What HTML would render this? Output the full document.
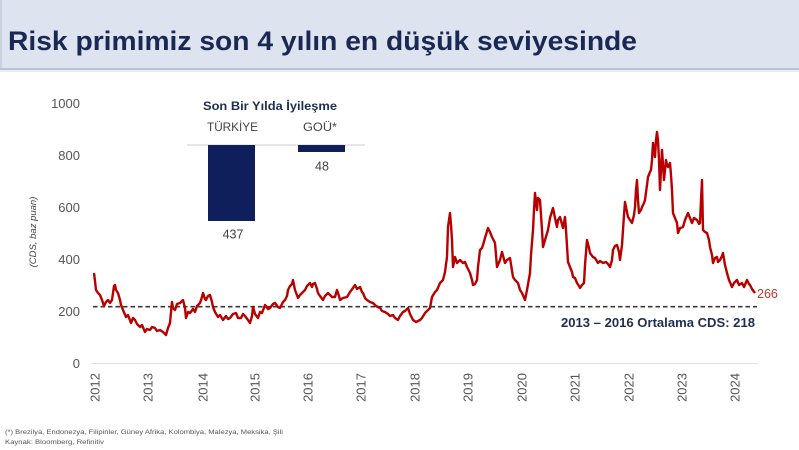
<!DOCTYPE html>
<html>
<head>
<meta charset="utf-8">
<style>
html,body{margin:0;padding:0;background:#fff;}
body{width:799px;height:450px;overflow:hidden;}
svg{display:block;}
</style>
</head>
<body>
<svg width="799" height="450" viewBox="0 0 799 450" xmlns="http://www.w3.org/2000/svg">
  <!-- header -->
  <rect x="0" y="0" width="799" height="70" fill="#dde4f0"/>
  <rect x="0" y="0" width="2" height="70" fill="#c9d1de"/>
  <rect x="0" y="68" width="799" height="2" fill="#b9c3d3"/>
  <rect x="0" y="70" width="799" height="2" fill="#e8ebf1"/>
  <text x="8" y="50" font-family="Liberation Sans, sans-serif" font-weight="bold" font-size="27" fill="#1a2853" textLength="629" lengthAdjust="spacingAndGlyphs">Risk primimiz son 4 yılın en düşük seviyesinde</text>

  <!-- y axis labels -->
  <g font-family="Liberation Sans, sans-serif" font-size="13" fill="#555" text-anchor="end">
    <text x="80" y="108">1000</text>
    <text x="80" y="160">800</text>
    <text x="80" y="212">600</text>
    <text x="80" y="264">400</text>
    <text x="80" y="316">200</text>
    <text x="80" y="368">0</text>
  </g>
  <text transform="translate(36,232) rotate(-90)" font-family="Liberation Sans, sans-serif" font-style="italic" font-size="9.5" fill="#444" text-anchor="middle">(CDS, baz puan)</text>

  <!-- baseline gridline -->
  <line x1="91" y1="363.5" x2="758" y2="363.5" stroke="#e2e2e2" stroke-width="1"/>

  <!-- x axis labels -->
  <g font-family="Liberation Sans, sans-serif" font-size="13" fill="#555" text-anchor="end">
    <text transform="translate(99.5,373) rotate(-90)">2012</text>
    <text transform="translate(152.5,373) rotate(-90)">2013</text>
    <text transform="translate(207.5,373) rotate(-90)">2014</text>
    <text transform="translate(259.5,373) rotate(-90)">2015</text>
    <text transform="translate(312.5,373) rotate(-90)">2016</text>
    <text transform="translate(365.5,373) rotate(-90)">2017</text>
    <text transform="translate(419.5,373) rotate(-90)">2018</text>
    <text transform="translate(472.5,373) rotate(-90)">2019</text>
    <text transform="translate(526.5,373) rotate(-90)">2020</text>
    <text transform="translate(579.5,373) rotate(-90)">2021</text>
    <text transform="translate(633.5,373) rotate(-90)">2022</text>
    <text transform="translate(686.5,373) rotate(-90)">2023</text>
    <text transform="translate(739.5,373) rotate(-90)">2024</text>
  </g>

  <!-- dashed average line -->
  <line x1="93" y1="306.7" x2="757" y2="306.7" stroke="#3a3a3a" stroke-width="1.6" stroke-dasharray="4.5,3"/>

  <!-- series -->
  <polyline fill="none" stroke="#b80000" stroke-width="2.4" stroke-linejoin="round" points="94,273 95,281 96,290 98,293 100,295 102,300 104,306 106,302 108,300 110,303 112,300 114,286 115,285 116,290 118,293 120,300 121,305 123,310 126,317 128,315 131,323 133,318 135,320 137,324 140,327 142,325 145,332 147,329 150,330 152,327 155,328 157,331 160,330 163,332 166,335 168,328 170,323 171,312 172,302 173,308 175,310 177,304 180,303 183,300 185,308 186,318 188,312 190,313 193,309 195,312 197,306 200,303 202,297 203,293 205,299 206,300 208,296 210,295 212,302 213,307 215,312 218,317 220,315 223,320 226,316 228,319 230,318 233,314 236,313 238,318 241,318 243,314 245,316 248,320 250,323 252,316 253,307 255,314 258,318 260,312 262,313 265,305 268,309 270,308 273,304 275,303 278,307 280,308 283,302 285,300 287,296 288,290 290,286 292,284 293,280 295,290 298,298 300,295 302,293 305,290 307,286 310,283 312,287 313,284 315,283 317,289 318,293 320,296 323,300 325,296 328,293 330,295 332,297 335,297 337,290 339,296 340,300 343,298 347,297 350,292 353,288 355,285 357,289 360,287 362,292 363,293 365,298 367,300 370,302 373,303 376,306 380,308 382,311 385,312 388,314 390,316 393,315 395,318 398,320 400,316 403,312 405,311 408,308 410,314 413,320 416,322 420,320 422,318 425,313 428,310 430,308 432,297 435,292 437,290 440,283 443,280 445,272 447,257 448,227 449,220 450,213 451,225 452,240 453,267 455,257 457,263 460,260 463,263 465,262 467,267 470,273 472,280 473,285 475,284 477,280 478,267 480,250 482,248 483,245 485,238 488,228 490,232 492,237 495,243 497,267 500,260 502,252 505,263 507,260 510,258 513,277 515,280 518,283 520,290 522,293 525,300 527,290 530,273 531,255 533,230 534,210 535,193 537,210 538,198 540,200 542,230 543,247 545,240 548,230 550,218 553,208 555,218 557,227 558,220 560,217 563,228 565,217 566,230 568,262 570,267 572,272 573,277 575,278 577,283 579,286 580,288 582,285 584,283 585,265 587,240 589,248 590,253 593,257 595,258 598,263 600,261 603,263 606,262 608,264 610,267 612,260 613,250 615,246 617,245 619,252 620,260 622,245 623,230 624,215 625,202 627,212 628,217 630,220 632,223 634,215 635,207 636,190 637,180 638,200 639,213 641,210 642,207 644,203 645,200 647,185 648,177 650,172 651,170 652,160 653,143 654,150 655,157 656,140 657,132 658,140 659,160 660,190 661,170 662,150 663,165 664,180 665,170 666,160 667,165 668,167 670,163 671,175 672,190 673,213 675,218 677,223 678,233 680,228 683,227 685,220 688,213 690,218 692,223 694,218 697,220 699,224 700,223 701,200 702,180 703,230 705,232 707,233 709,240 710,247 712,255 713,263 715,258 717,257 718,262 720,260 722,256 723,253 725,265 727,273 729,280 732,287 734,283 737,280 739,285 742,283 744,287 747,280 749,284 750,285 752,289 755,293"/>

  <text x="757" y="298" font-family="Liberation Sans, sans-serif" font-size="12.5" fill="#c0392b">266</text>
  <text x="755" y="327" font-family="Liberation Sans, sans-serif" font-weight="bold" font-size="12.5" fill="#1f2d50" text-anchor="end" textLength="194" lengthAdjust="spacingAndGlyphs">2013 – 2016 Ortalama CDS: 218</text>

  <!-- inset bar chart -->
  <text x="203" y="110" font-family="Liberation Sans, sans-serif" font-weight="bold" font-size="11.5" fill="#1f2d50" textLength="134" lengthAdjust="spacingAndGlyphs">Son Bir Yılda İyileşme</text>
  <text x="207" y="131" font-family="Liberation Sans, sans-serif" font-size="11.5" fill="#444" textLength="51" lengthAdjust="spacingAndGlyphs">TÜRKİYE</text>
  <text x="303" y="131" font-family="Liberation Sans, sans-serif" font-size="11.5" fill="#444" textLength="34" lengthAdjust="spacingAndGlyphs">GOÜ*</text>
  <line x1="187" y1="145" x2="365" y2="145" stroke="#cfcfcf" stroke-width="1"/>
  <rect x="208" y="145" width="47" height="76" fill="#0e1f5b"/>
  <rect x="298" y="145" width="47" height="7" fill="#0e1f5b"/>
  <text x="322" y="170.5" font-family="Liberation Sans, sans-serif" font-size="12.5" fill="#444" text-anchor="middle">48</text>
  <text x="233" y="238.5" font-family="Liberation Sans, sans-serif" font-size="12.5" fill="#444" text-anchor="middle">437</text>

  <!-- footnotes -->
  <text x="5" y="434" font-family="Liberation Sans, sans-serif" font-size="6.5" fill="#555" textLength="278" lengthAdjust="spacingAndGlyphs">(*) Brezilya, Endonezya, Filipinler, Güney Afrika, Kolombiya, Malezya, Meksika, Şili</text>
  <text x="5" y="444" font-family="Liberation Sans, sans-serif" font-size="6.5" fill="#555" textLength="99" lengthAdjust="spacingAndGlyphs">Kaynak: Bloomberg, Refinitiv</text>
</svg>
</body>
</html>
